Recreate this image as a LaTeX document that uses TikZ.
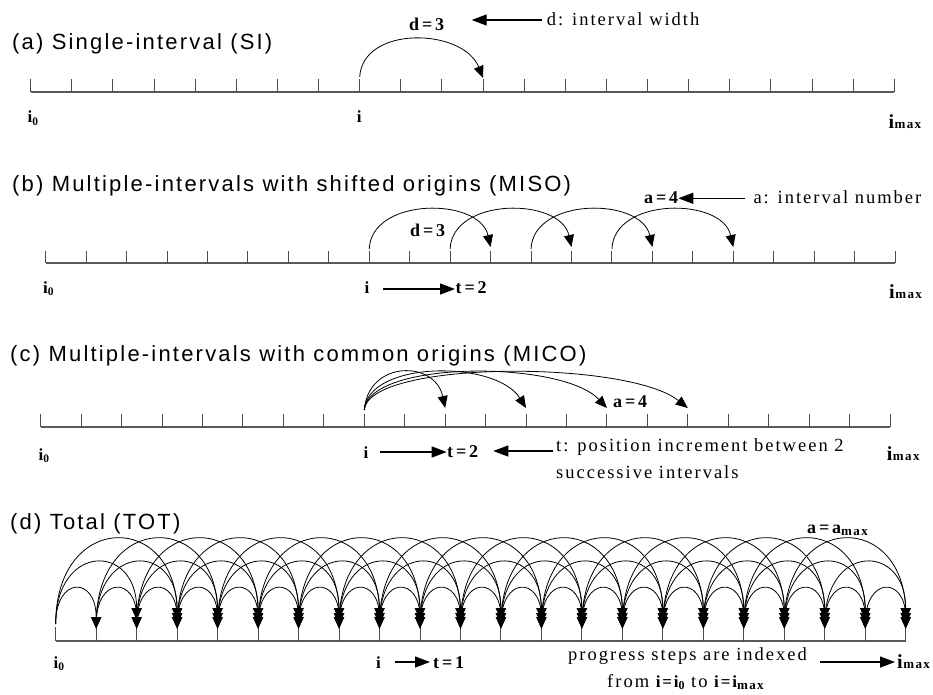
\documentclass[tikz,border=0pt]{standalone}
\usepackage{fontspec}
\setmainfont{Liberation Serif}
\newfontfamily\ttlfont[LetterSpace=10]{Liberation Sans}
\newfontfamily\rmls[LetterSpace=10.8]{Liberation Serif}
\newfontfamily\bfls[LetterSpace=16]{Liberation Serif}
\usetikzlibrary{arrows.meta,calc}
\newcommand\ttl[1]{{\ttlfont\fontsize{22}{22}\selectfont #1}}
\newcommand\txt[1]{{\rmls\fontsize{18.5}{18.5}\selectfont #1}}
\newcommand\blb[1]{{\bfls\bfseries\fontsize{18}{18}\selectfont #1}}
\newcommand\izero{{\bfseries\fontsize{17}{17}\selectfont i\raisebox{-2.5pt}{\fontsize{11.5}{11.5}\selectfont 0}}}
\newcommand\imaxl{{\bfseries\fontsize{20}{20}\selectfont i\kern0.5pt{\rmls\bfseries\fontsize{13}{13}\selectfont max}}}
\newcommand\ilb{{\bfseries\fontsize{17}{17}\selectfont i}}
\newcommand\smsub[1]{\raisebox{-2pt}{\rmls\bfseries\fontsize{13}{13}\selectfont #1}}
\begin{document}
\begin{tikzpicture}[x=1pt,y=-1pt,
  axis/.style={line width=1.3pt, draw=black!65},
  tk/.style={line width=0.9pt, draw=black!70},
  arc/.style={line width=0.8pt, -{Triangle[length=12pt,width=10pt]}},
  arcs/.style={line width=0.8pt, -{Triangle[length=12pt,width=10.5pt]}},
  sarrow/.style={line width=1.3pt, -{Triangle[length=15pt,width=11pt]}},
  lb/.style={inner sep=0pt, anchor=base west},
  cb/.style={inner sep=0pt, anchor=base}]
\useasboundingbox (0,0) rectangle (933,694);

% ---------------- (a)
\foreach \k in {0,...,21} \coordinate (a\k) at ({30.7+41.124*\k},92);
\draw[axis] (a0) -- (a21);
\foreach \k in {0,...,21} \draw[tk] (a\k) -- ++(0,-13);
\draw[arc] ($(a8)+(0,-15)$) .. controls +(3,-52) and +(-20,-50) .. ($(a11)+(0,-14)$);
\node[lb] (ta) at (12,49) {\ttl{(a) Single-interval (SI)}};
\node[lb] (da) at (409,30) {\blb{d=3}};
\node[lb] (dwa) at (546.7,25) {\txt{d: interval width}};
\coordinate (ea) at (541.7,20); \coordinate (eatip) at (471.7,20);
\draw[sarrow] (ea) -- (eatip);
\node[lb] (i0a) at (27.5,122.5) {\izero};
\node[cb] (ia) at (359.3,122) {\ilb};
\node[lb] (ima) at (888.3,128) {\imaxl};

% ---------------- (b)
\foreach \k in {0,...,21} \coordinate (b\k) at ({45.7+40.443*\k},263);
\draw[axis] (b0) -- (b21);
\foreach \k in {0,...,21} \draw[tk] (b\k) -- ++(0,-12);
\foreach \j in {8,10,12,14}{
  \pgfmathtruncatemacro\e{\j+3}
  \draw[arc] ($(b\j)+(0,-14)$) .. controls +(2,-52) and +(-11,-50) .. ($(b\e)+(0,-16)$);
}
\node[lb] (tb) at (12,191.5) {\ttl{(b) Multiple-intervals with shifted origins (MISO)}};
\node[lb] (db) at (410,236.7) {\blb{d=3}};
\node[lb] (ab) at (644,203.3) {\blb{a=4}};
\node[lb] (anb) at (753.3,203.3) {\txt{a: interval number}};
\coordinate (eb) at (745,198.3); \coordinate (ebtip) at (678.3,198.3);
\draw[sarrow] (eb) -- (ebtip);
\node[lb] (i0b) at (43,293) {\izero};
\node[cb] (ib) at (367,293) {\ilb};
\coordinate (tbs) at (383.3,289); \coordinate (tbe) at (455,289);
\draw[sarrow] (tbs) -- (tbe);
\node[lb] (tb2) at (455.5,293.3) {\blb{t=2}};
\node[lb] (imb) at (889,298) {\imaxl};

% ---------------- (c)
\foreach \k in {0,...,21} \coordinate (c\k) at ({40.7+40.443*\k},427);
\draw[axis] (c0) -- (c21);
\foreach \k in {0,...,21} \draw[tk] (c\k) -- ++(0,-13.5);
\foreach \e/\q in {10/10,12/30,14/45,16/60}
  \draw[arc] ($(c8)+(0,-17)$) .. controls +(4,-50) and +(-\q,-48) .. ($(c\e)+(0,-19)$);
\node[lb] (tc) at (10,361) {\ttl{(c) Multiple-intervals with common origins (MICO)}};
\node[lb] (ac) at (613,407.3) {\blb{a=4}};
\node[lb] (i0c) at (38.5,460) {\izero};
\node[cb] (ic) at (366,458) {\ilb};
\coordinate (tcs) at (380,452); \coordinate (tce) at (446.7,452);
\draw[sarrow] (tcs) -- (tce);
\node[lb] (tc2) at (447,457) {\blb{t=2}};
\coordinate (ec) at (553,451); \coordinate (ectip) at (493.3,451);
\draw[sarrow] (ec) -- (ectip);
\node[lb] (tpc) at (556,451.5) {\txt{t: position increment between 2}};
\node[lb] (tsc) at (556,478) {\txt{successive intervals}};
\node[lb] (imc) at (886.7,460) {\imaxl};

% ---------------- (d)
\foreach \k in {0,...,21} \coordinate (d\k) at ({55.7+40.476*\k},641);
\draw[axis] (d0) -- (d21);
\foreach \k in {0,...,21} \draw[tk] (d\k) -- ++(0,-14);
\foreach \j in {0,...,20}{
  \foreach \s/\h/\ey in {1/36/629,2/61/620,3/85/625}{
    \pgfmathtruncatemacro\e{\j+\s}
    \ifnum\e<22
      \draw[arcs] ($(d\j)+(0,-17)$) .. controls +(0,{-\h*4/3}) and ($(d\e)+(0,{-17-\h*4/3})$) .. ($(d\e)+(0,\ey-641)$);
    \fi
  }
}
\node[lb] (td) at (10,529) {\ttl{(d) Total (TOT)}};
\node[lb] (amd) at (807,533) {\blb{a=a}\smsub{max}};
\node[lb] (i0d) at (53.5,668) {\izero};
\node[cb] (id) at (378.5,668) {\ilb};
\coordinate (tds) at (395,662); \coordinate (tde) at (430,662);
\draw[sarrow] (tds) -- (tde);
\node[lb] (td1) at (433,668) {\blb{t=1}};
\node[lb] (pd) at (568,660) {\txt{progress steps are indexed}};
\coordinate (pds) at (820,662); \coordinate (pde) at (895,662);
\draw[sarrow] (pds) -- (pde);
\node[lb] (imd) at (897,668) {\imaxl};
\node[lb] (fd) at (607,687) {\txt{from {\bfseries\fontsize{17}{17}\selectfont i=i}\raisebox{-2pt}{\bfseries\fontsize{12}{12}\selectfont 0} to {\bfseries\fontsize{17}{17}\selectfont i=i}\smsub{max}}};
\end{tikzpicture}
\end{document}
